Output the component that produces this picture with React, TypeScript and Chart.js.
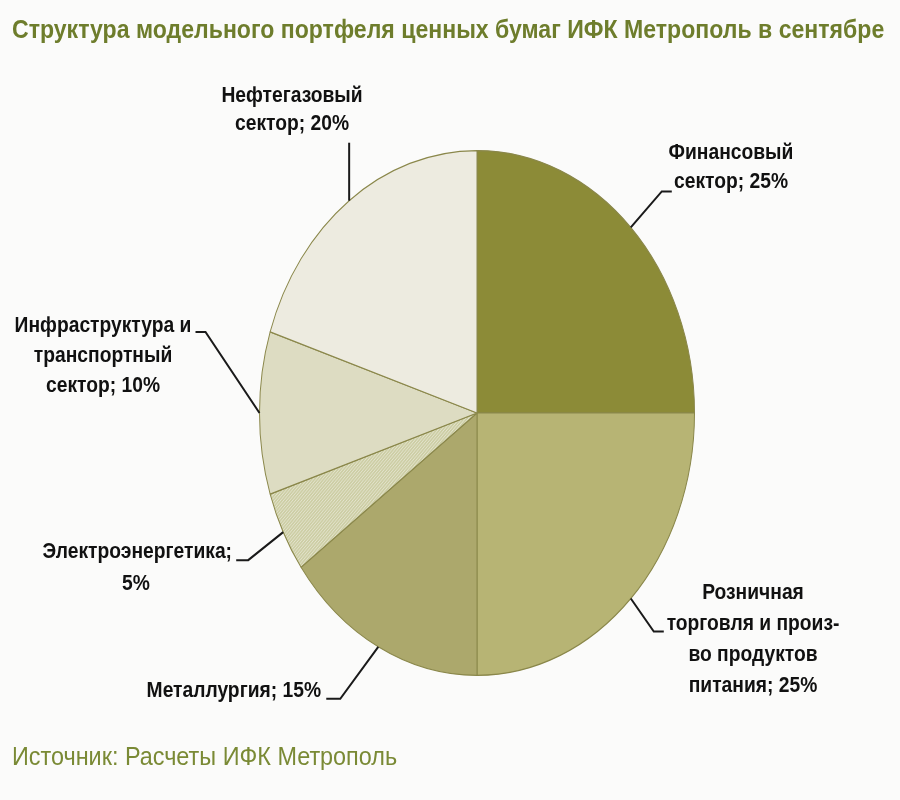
import React, { useEffect, useRef } from "react";
import { Chart, registerables } from "chart.js";

Chart.register(...registerables);

const titleText = "Структура модельного портфеля ценных бумаг ИФК Метрополь в сентябре";
const sourceText = "Источник: Расчеты ИФК Метрополь";

const categories = [
  "Финансовый сектор",
  "Розничная торговля и произ-во продуктов питания",
  "Металлургия",
  "Электроэнергетика",
  "Инфраструктура и транспортный сектор",
  "Нефтегазовый сектор",
];
const shares = [25, 25, 15, 5, 10, 20];
const labelLines = [
  ["Финансовый", "сектор; {v}%"],
  ["Розничная", "торговля и произ-", "во продуктов", "питания; {v}%"],
  ["Металлургия; {v}%"],
  ["Электроэнергетика;", "{v}%"],
  ["Инфраструктура и", "транспортный", "сектор; {v}%"],
  ["Нефтегазовый", "сектор; {v}%"],
];
const sliceColors = ["#8c8b37", "#b7b474", "#aca86c", "#cfd0a8", "#dddcc2", "#edebe0"];

// leader/label layout (styling)
const labelLayout: any[] = [
  { elbow: [31, -36], tail: 10, tx: 731, ty: 159, lh: 29 },
  { elbow: [23, 33], tail: 10, tx: 753, ty: 599, lh: 31 },
  { elbow: [-38, 52], tail: -14, tx: 321, ty: 697, lh: 29, align: "right" },
  { elbow: [-35, 28], tail: -12, tx: 136, ty: 558, lh: 32, firstRight: 232 },
  { elbow: [-54, -81], tail: -10, tx: 103, ty: 332, lh: 30 },
  { elbow: [0, -58], tail: 0, tx: 292, ty: 102, lh: 28 },
];

const SY = 263 / 218;
const FONT = '"Liberation Sans", Arial, sans-serif';

function drawText(ctx: CanvasRenderingContext2D, s: string, x: number, y: number, align: CanvasTextAlign, sx: number) {
  ctx.save();
  ctx.translate(x, y);
  ctx.scale(sx, 1);
  ctx.textAlign = align;
  ctx.textBaseline = "alphabetic";
  ctx.fillText(s, 0, 0);
  ctx.restore();
}

export default function App() {
  const ref = useRef<HTMLCanvasElement>(null);
  useEffect(() => {
    if (!ref.current) return;
    const pc = document.createElement("canvas");
    pc.width = 3;
    pc.height = 3;
    const pctx = pc.getContext("2d")!;
    pctx.fillStyle = "#cdcea5";
    pctx.fillRect(0, 0, 3, 3);
    pctx.fillStyle = "#e3e3cc";
    pctx.fillRect(0, 0, 1, 1);
    pctx.fillRect(2, 1, 1, 1);
    pctx.fillRect(1, 2, 1, 1);
    const pattern = pctx.createPattern(pc, "repeat")!;
    const colors: any[] = sliceColors.map((c, i) => (i === 3 ? pattern : c));

    const ellipsePlugin = {
      id: "ellipse",
      beforeDraw(chart: any) {
        const ctx = chart.ctx;
        ctx.save();
        ctx.fillStyle = "#fbfbfa";
        ctx.fillRect(0, 0, chart.width, chart.height);
        ctx.restore();
      },
      beforeDatasetsDraw(chart: any) {
        const meta = chart.getDatasetMeta(0);
        const a = meta.data[0];
        const ctx = chart.ctx;
        ctx.save();
        ctx.translate(a.x, a.y);
        ctx.scale(1, SY);
        ctx.translate(-a.x, -a.y);
      },
      afterDatasetsDraw(chart: any) {
        chart.ctx.restore();
      },
      afterDraw(chart: any) {
        const ctx = chart.ctx;
        const meta = chart.getDatasetMeta(0);
        ctx.save();
        ctx.fillStyle = "#6e7d2c";
        ctx.font = `bold 26px ${FONT}`;
        drawText(ctx, titleText, 12, 38, "left", 0.888);
        ctx.fillStyle = "#7a8a35";
        ctx.font = `26px ${FONT}`;
        drawText(ctx, sourceText, 12, 765, "left", 0.9);

        meta.data.forEach((arc: any, i: number) => {
          const mid = (arc.startAngle + arc.endAngle) / 2;
          const r = arc.outerRadius;
          const ax = arc.x + r * Math.cos(mid);
          const ay = arc.y + SY * r * Math.sin(mid);
          const L = labelLayout[i];
          const ex = ax + L.elbow[0];
          const ey = ay + L.elbow[1];
          ctx.strokeStyle = "#1a1a1a";
          ctx.lineWidth = 2;
          ctx.beginPath();
          ctx.moveTo(ax, ay);
          ctx.lineTo(ex, ey);
          ctx.lineTo(ex + L.tail, ey);
          ctx.stroke();

          ctx.fillStyle = "#111";
          ctx.font = `bold 22px ${FONT}`;
          const lines = labelLines[i].map((s) => s.replace("{v}", String(shares[i])));
          lines.forEach((s, k) => {
            if (k === 0 && L.firstRight) {
              drawText(ctx, s, L.firstRight, L.ty, "right", 0.875);
            } else {
              drawText(ctx, s, L.tx, L.ty + k * L.lh, L.align || "center", 0.875);
            }
          });
        });
        ctx.restore();
      },
    };

    const chart = new Chart(ref.current, {
      type: "pie",
      data: {
        labels: categories,
        datasets: [
          {
            data: shares,
            backgroundColor: colors,
            borderColor: "#8a874a",
            borderWidth: 1,
            clip: false as any,
          },
        ],
      },
      options: {
        animation: false,
        responsive: false,
        events: [],
        layout: { padding: { left: 259, right: 205, top: 150, bottom: 124 } },
        plugins: {
          legend: { display: false },
          tooltip: { enabled: false },
          title: { display: false },
        },
      },
      plugins: [ellipsePlugin],
    });
    return () => chart.destroy();
  }, []);
  return (
    <div style={{ position: "absolute", left: 0, top: 0, width: 900, height: 800 }}>
      <canvas ref={ref} width={900} height={800} style={{ width: 900, height: 800, display: "block" }} />
    </div>
  );
}
